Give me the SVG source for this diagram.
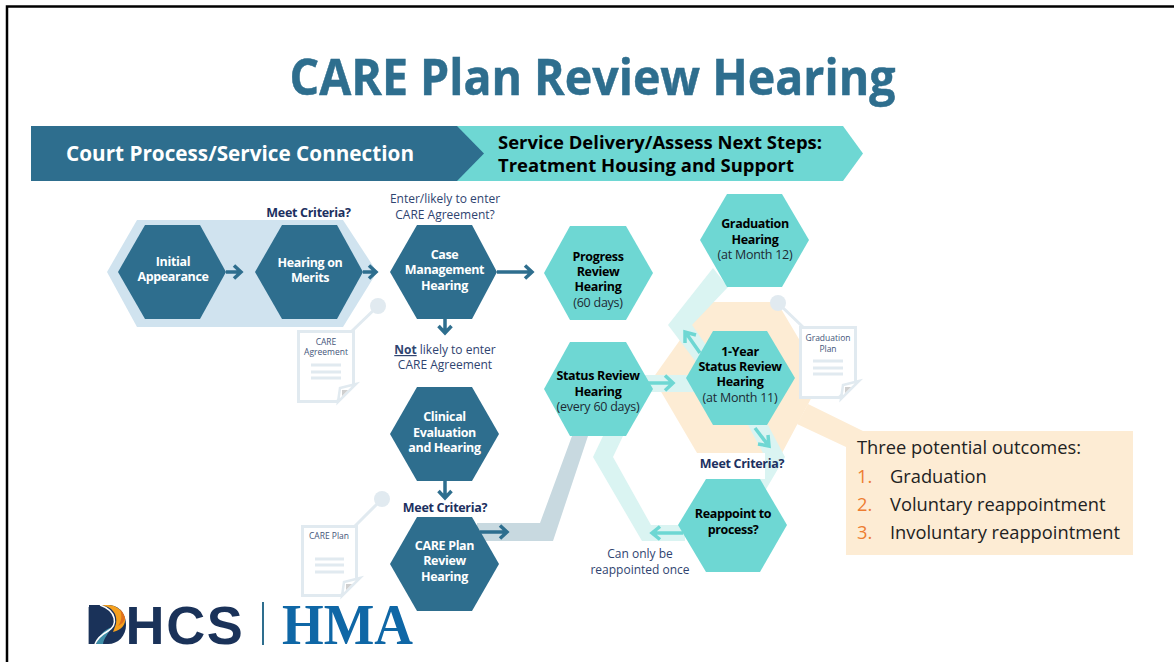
<svg xmlns="http://www.w3.org/2000/svg" width="1174" height="662" viewBox="0 0 1174 662">
<style>
text{font-family:"Open Sans","Noto Sans","Liberation Sans",sans-serif}
.m{text-anchor:middle}
.nd{font-size:12.5px;font-weight:700;fill:#fff;text-anchor:middle;letter-spacing:-.35px}
.nt{font-size:12.5px;font-weight:700;fill:#000;text-anchor:middle;letter-spacing:-.35px}
.nr{font-size:12.5px;fill:#1d2a33;text-anchor:middle;letter-spacing:-.25px}
.lb{font-size:12px;fill:#2f4470;text-anchor:middle}
.q{font-size:12.5px;font-weight:700;fill:#1c3060;text-anchor:middle;letter-spacing:-.3px}
.doc{font-size:8.5px;fill:#44557a;text-anchor:middle}
.dk{fill:#2e6e8e}.tl{fill:#6ed7d3}
.band{fill:#daf4f2}
.pg{fill:#fff;stroke:#e1eaf0;stroke-width:3}
.pl{fill:none;stroke:#e1eaf0;stroke-width:3}
.fd{fill:#fff;stroke:#e1eaf0;stroke-width:2.500;stroke-linejoin:miter}
.fg{fill:#cfcfcf}
.ad{fill:none;stroke:#2e6e8e;stroke-width:3.500}
.at{fill:none;stroke:#6ed7d3;stroke-width:3.500}
.ol{font-size:18.300px;fill:#222}
.on{font-size:18.300px;fill:#ed7d31}
</style>
<rect width="1174" height="662" fill="#fff"/>
<path d="M7,662V6.500H1174" fill="none" stroke="#000" stroke-width="2.500"/>
<text x="592.500" y="95" class="m" font-size="50" font-weight="700" fill="#2e6e8e" stroke="#2e6e8e" stroke-width=".5" textLength="606" lengthAdjust="spacingAndGlyphs">CARE Plan Review Hearing</text>
<g id="banner">
<polygon class="tl" points="440,126 843,126 863,153.500 843,181 440,181"/>
<polygon class="dk" points="31,126 457,126 484,153.500 457,181 31,181"/>
<text x="66" y="160.500" font-size="21" font-weight="700" fill="#fff" textLength="348" lengthAdjust="spacingAndGlyphs">Court Process/Service Connection</text>
<text x="498" y="149" font-size="18.500" font-weight="700" fill="#000" textLength="324" lengthAdjust="spacingAndGlyphs">Service Delivery/Assess Next Steps:</text>
<text x="498" y="172" font-size="18.500" font-weight="700" fill="#000" textLength="296" lengthAdjust="spacingAndGlyphs">Treatment Housing and Support</text>
</g>
<g id="backdrops">
<polygon fill="#d0e3ef" points="107,272 137,220 343,220 377,272 343,327 137,327"/>
<polygon fill="#fdecd4" points="653,378 707,302 777,302 822,378 782,453 697,453"/>
<polygon fill="#fdecd4" points="808,404 863,431 1133,431 1133,555 846,555 846,447 797,424"/>
</g>
<g id="connectors">
<polygon class="band" points="713,268 728,287 692,325 706,345 696,362 668,325"/>
<rect class="band" x="645" y="375" width="50" height="17"/>
<polygon class="band" points="748,425 768,425 785,457 765,491 750,482 765,457"/>
<rect x="697" y="453" width="68" height="26" fill="#fff"/>
<polygon class="band" points="603,436 623,436 613,457 651,525 685,525 685,541 642,541 593,457"/>
<polygon fill="#c8d9e0" points="572,436 588,436 553,541 477,541 477,523 540,523"/>
<path class="ad" d="M226,272H240M234,265.500L241,272L234,278.500"/>
<path class="ad" d="M363,272H375M369,265.500L376,272L369,278.500"/>
<path class="ad" d="M497,272H531M525,265.500L532,272L525,278.500"/>
<path class="ad" d="M445,319V332M438.500,326L445,333L451.500,326"/>
<path class="ad" d="M445,481V497M438.500,491L445,498L451.500,491"/>
<path class="ad" d="M480,532H506M500,525.500L507,532L500,538.500"/>
<path class="at" d="M647,383H672M665,375.500L673,383L665,390.500"/>
<path class="at" d="M700,353L686,333M685,343L685,332L696,335"/>
<path class="at" d="M755,428L768,445M768,435L769,446L758,444"/>
<path class="at" d="M683,533H653M660,526.500L652,533L660,539.500"/>
</g>
<g id="doc-care-agreement">
<circle cx="378" cy="306" r="8" fill="#e1eaf0"/>
<path class="pl" d="M352,331L378,306"/>
<polygon class="pg" points="298.500,331.500 353.500,331.500 353.500,385 337,401.500 298.500,401.500"/>
<polygon class="fd" points="356,384 340,388 338,402"/>
<polygon class="fg" points="342,390 348,390 342,396"/>
<text x="326" y="345" class="doc">CARE</text>
<text x="326" y="355" class="doc">Agreement</text>
<path class="pl" d="M311,365H341M311,372H341M311,378H341"/>
</g>
<g id="doc-care-plan">
<circle cx="382" cy="499" r="8" fill="#e1eaf0"/>
<path class="pl" d="M355,526L382,499"/>
<polygon class="pg" points="302.500,526.500 356.500,526.500 356.500,579 341,595.500 302.500,595.500"/>
<polygon class="fd" points="360,578 344,582 342,596"/>
<polygon class="fg" points="346,584 352,584 346,590"/>
<text x="329" y="539" class="doc">CARE Plan</text>
<path class="pl" d="M315,559H344M315,565H344M315,572H344"/>
</g>
<g id="doc-graduation-plan">
<circle cx="778" cy="303" r="8" fill="#e1eaf0"/>
<path class="pl" d="M804,328L778,303"/>
<polygon class="pg" points="800.500,327.500 855.500,327.500 855.500,382 839,397.500 800.500,397.500"/>
<polygon class="fd" points="859,381 843,385 841,399"/>
<polygon class="fg" points="845,387 851,387 845,393"/>
<text x="828" y="341" class="doc">Graduation</text>
<text x="828" y="352" class="doc">Plan</text>
<path class="pl" d="M813,361H843M813,368H843M813,374H843"/>
</g>
<g id="initial-appearance">
<polygon class="dk" points="118,272 145,225 200,225 226,272 200,319 145,319"/>
<text x="173" y="266" class="nd">Initial</text><text x="173" y="281" class="nd">Appearance</text>
</g>
<g id="hearing-on-merits">
<polygon class="dk" points="255,272 282,225 337,225 363,272 337,319 282,319"/>
<text x="310" y="267" class="nd">Hearing on</text><text x="310" y="282" class="nd">Merits</text>
<text x="308.500" y="217" class="q">Meet Criteria?</text>
</g>
<g id="case-management-hearing">
<polygon class="dk" points="390,272 417,225 472,225 497,272 472,319 417,319"/>
<text x="444.500" y="259" class="nd">Case</text><text x="444.500" y="274" class="nd">Management</text><text x="444.500" y="290" class="nd">Hearing</text>
<text x="445" y="203" class="lb">Enter/likely to enter</text><text x="445" y="219" class="lb">CARE Agreement?</text>
<text x="445" y="354" class="lb"><tspan font-weight="700" text-decoration="underline">Not</tspan> likely to enter</text><text x="445" y="369" class="lb">CARE Agreement</text>
</g>
<g id="clinical-evaluation-hearing">
<polygon class="dk" points="390,434 417,387 472,387 499,434 472,481 417,481"/>
<text x="444.500" y="421" class="nd">Clinical</text><text x="444.500" y="437" class="nd">Evaluation</text><text x="444.500" y="452" class="nd">and Hearing</text>
</g>
<g id="care-plan-review-hearing">
<polygon class="dk" points="390,564 417,517 472,517 499,564 472,611 417,611"/>
<text x="444.500" y="550" class="nd">CARE Plan</text><text x="444.500" y="565" class="nd">Review</text><text x="444.500" y="581" class="nd">Hearing</text>
<text x="445" y="512" class="q">Meet Criteria?</text>
</g>
<g id="progress-review-hearing">
<polygon class="tl" points="544,273 570,226 626,226 653,273 626,320 570,320"/>
<text x="598" y="261" class="nt">Progress</text><text x="598" y="276" class="nt">Review</text><text x="598" y="291" class="nt">Hearing</text><text x="598" y="307" class="nr">(60 days)</text>
</g>
<g id="status-review-hearing">
<polygon class="tl" points="544,389 570,342 626,342 653,389 626,436 570,436"/>
<text x="598" y="380" class="nt">Status Review</text><text x="598" y="396" class="nt">Hearing</text><text x="598" y="411" class="nr">(every 60 days)</text>
</g>
<g id="graduation-hearing">
<polygon class="tl" points="700,240 727,194 782,194 809,240 782,287 727,287"/>
<text x="755" y="228" class="nt">Graduation</text><text x="755" y="244" class="nt">Hearing</text><text x="755" y="259" class="nr">(at Month 12)</text>
</g>
<g id="one-year-status-review">
<polygon class="tl" points="686,378 713,331 767,331 795,378 767,425 713,425"/>
<text x="740" y="356" class="nt">1-Year</text><text x="740" y="371" class="nt">Status Review</text><text x="740" y="386" class="nt">Hearing</text><text x="740" y="402" class="nr">(at Month 11)</text>
</g>
<g id="reappoint-to-process">
<polygon class="tl" points="678,525 706,479 760,479 787,525 760,572 706,572"/>
<text x="733" y="518" class="nt">Reappoint to</text><text x="733" y="534" class="nt">process?</text>
<text x="742" y="468" class="q">Meet Criteria?</text>
<text x="640" y="558" class="lb">Can only be</text><text x="640" y="574" class="lb">reappointed once</text>
</g>
<g id="outcomes">
<text x="857" y="454" class="ol">Three potential outcomes:</text>
<text x="857" y="483" class="on">1.</text><text x="890" y="483" class="ol">Graduation</text>
<text x="857" y="511" class="on">2.</text><text x="890" y="511" class="ol">Voluntary reappointment</text>
<text x="857" y="539" class="on">3.</text><text x="890" y="539" class="ol">Involuntary reappointment</text>
</g>
<g id="logos">
<text x="85" y="644" style="font-family:'Liberation Sans',sans-serif;letter-spacing:1.600px" font-size="54" font-weight="700" fill="#1a3259">DHCS</text>
<path d="M89,605H108C120,605 126,615 126,625C126,636 118,644 108,644H89Z" fill="#1a3259"/>
<path d="M100,605C112,606 118,614 116,624L113,632C122,630 126,624 125,618C122,609 115,605 108,605Z" fill="#f5a01e"/>
<path d="M118,626C122,624 125,621 125,618C124,614 122,611 120,609C122,615 122,621 118,626Z" fill="#e0701e"/>
<path d="M96,644C98,636 104,630 112,627C108,634 104,638 103,644Z" fill="#3f8ea8"/>
<path d="M100,605C117,611 118,625 108,631C101,635 97,639 95,644" fill="none" stroke="#fff" stroke-width="1.500"/>
<rect x="262" y="602" width="2" height="43" fill="#2e6e8e"/>
<text x="282" y="644" style="font-family:'Liberation Serif',serif" font-size="58" font-weight="700" fill="#0f67a6" textLength="131" lengthAdjust="spacingAndGlyphs">HMA</text>
</g>
</svg>
